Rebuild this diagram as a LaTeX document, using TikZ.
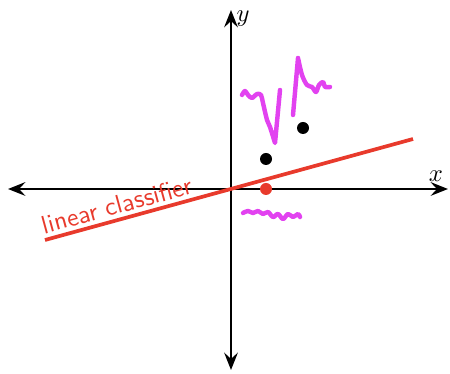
\documentclass[tikz,border=0pt]{standalone}
\usetikzlibrary{arrows.meta}

\definecolor{clsred}{RGB}{232,58,44}
\definecolor{noisemag}{RGB}{226,66,240}

\tikzset{
  axis/.style={line width=1.1pt, {Stealth[length=7pt,width=5.5pt,inset=2.5pt]}-{Stealth[length=7pt,width=5.5pt,inset=2.5pt]}},
  squiggle/.style={noisemag, line width=1.8pt, line cap=round, line join=round},
  datadot/.style={fill=#1, draw=none}
}

\begin{document}
\begin{tikzpicture}[scale=0.57]
    % Frame
    \useasboundingbox (-5.775,-4.625) rectangle (5.475,4.725);

    % Axes
    \coordinate (XMin) at (-5.575,0);
    \coordinate (XMax) at (5.425,0);
    \coordinate (YMin) at (0,-4.525);
    \coordinate (YMax) at (0,4.475);
    \draw[axis] (XMin) -- (XMax);
    \draw[axis] (YMin) -- (YMax);
    \node (XLabel) at (5.125,0.33) {$x$};
    \node (YLabel) at (0.3,4.25) {$y$};

    % Linear classifier
    \coordinate (LineStart) at (-4.65,-1.275);
    \coordinate (LineEnd) at (4.55,1.25);
    \draw[clsred, line width=1.5pt] (LineStart) -- (LineEnd);
    \node[clsred, rotate=15.3, font=\sffamily, scale=1.04] (ClsLabel) at (-2.85,-0.4) {linear classifier};

    % Noise squiggles
    \draw[squiggle] plot[smooth, tension=0.5] coordinates {(0.275,2.35) (0.35,2.45) (0.425,2.35) (0.525,2.275) (0.65,2.375) (0.75,2.35) (0.8,2.15) (0.9,1.725) (0.975,1.55) (1.1,1.15)}
        -- (1.225,2.475);
    \draw[squiggle] (1.55,1.85) -- (1.675,3.275)
        plot[smooth, tension=0.5] coordinates {(1.675,3.275) (1.775,2.85) (1.9,2.6) (2.025,2.55) (2.125,2.425) (2.2,2.6) (2.3,2.675) (2.35,2.55) (2.475,2.55)};
    \draw[squiggle] plot[smooth, tension=0.6] coordinates {(0.3,-0.6) (0.425,-0.55) (0.55,-0.6) (0.675,-0.55) (0.8,-0.625) (0.925,-0.575) (1.05,-0.7) (1.175,-0.625) (1.3,-0.75) (1.425,-0.625) (1.55,-0.7) (1.675,-0.625) (1.725,-0.7)};

    % Data points
    \fill[datadot=black] (0.875,0.75) circle (0.15);
    \fill[datadot=black] (1.8,1.525) circle (0.15);
    \fill[datadot=clsred] (0.875,0) circle (0.15);
\end{tikzpicture}
\end{document}
